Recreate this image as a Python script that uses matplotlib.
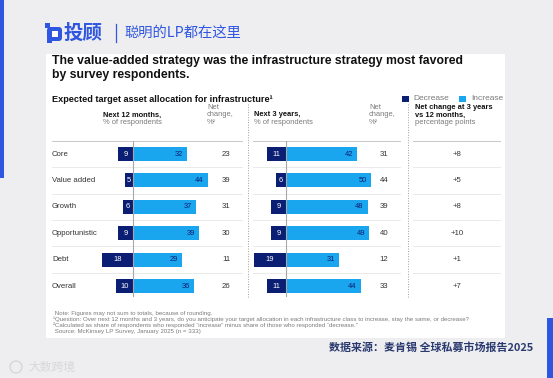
import matplotlib
matplotlib.use("Agg")
import matplotlib.pyplot as plt
from matplotlib.patches import Rectangle, FancyBboxPatch, Circle
import numpy as np

# ---------------- data ----------------
categories = ["Core", "Value added", "Growth", "Opportunistic", "Debt", "Overall"]
dec_12m = [9, 5, 6, 9, 18, 10]
inc_12m = [32, 44, 37, 39, 29, 36]
net_12m = [23, 39, 31, 30, 11, 26]
dec_3y = [11, 6, 9, 9, 19, 11]
inc_3y = [42, 50, 48, 49, 31, 44]
net_3y = [31, 44, 39, 40, 12, 33]
diff_labels = ["+8", "+5", "+8", "+10", "+1", "+7"]

title_lines = ["The value-added strategy was the infrastructure strategy most favored",
               "by survey respondents."]
subtitle = "Expected target asset allocation for infrastructure\u00b9"
footnotes = [
    " Note: Figures may not sum to totals, because of rounding.",
    "\u00b9Question: Over next 12 months and 3 years, do you anticipate your target allocation in each infrastructure class to increase, stay the same, or decrease?",
    "\u00b2Calculated as share of respondents who responded \u201cincrease\u201d minus share of those who responded \u201cdecrease.\u201d",
    " Source: McKinsey LP Survey, January 2025 (n = 333)",
]
source_cn = "数据来源：麦肯锡 全球私募市场报告2025"

# ---------------- style ----------------
W, H = 553, 378
NAVY = "#0a1f73"
LIGHT = "#1aa5ef"
BRAND = "#2f56e0"
TXT = "#333333"
GREY = "#7a7a7a"
LAT = ["Liberation Sans", "DejaVu Sans"]
CJK = ["Noto Sans CJK SC", "DejaVu Sans"]
plt.rcParams["font.family"] = LAT

fig = plt.figure(figsize=(W / 100, H / 100), dpi=100)
fig.patch.set_facecolor("#eeeef0")
bg = fig.add_axes([0, 0, 1, 1])
bg.set_xlim(0, W)
bg.set_ylim(H, 0)
bg.axis("off")


def box(x0, y0, x1, y1):
    return [x0 / W, 1 - y1 / H, (x1 - x0) / W, (y1 - y0) / H]


# side accents
bg.add_patch(Rectangle((0, 0), 4, 178, color=BRAND, lw=0))
bg.add_patch(Rectangle((547, 318), 6, 60, color=BRAND, lw=0))

# logo
bg.add_patch(FancyBboxPatch((47, 27), 15, 14, boxstyle="round,pad=0,rounding_size=3.5",
                            fc=BRAND, ec="none"))
bg.add_patch(Rectangle((51.5, 30.5), 6, 6, color="white", lw=0))
bg.add_patch(Rectangle((45, 23), 4.5, 4.5, color=BRAND, lw=0))
bg.add_patch(Rectangle((47, 39), 4.5, 4, color=BRAND, lw=0))
bg.text(64, 33, "投顾", family=CJK, fontsize=14, fontweight="bold", color=BRAND,
        va="center", ha="left")
bg.plot([116, 116], [24, 42], color=BRAND, lw=0.9)
bg.text(124, 33, "聪明的LP都在这里", family=CJK, fontsize=10.3, color=BRAND,
        va="center", ha="left", style="italic")

# white card
bg.add_patch(Rectangle((46, 54), 459, 284, color="white", lw=0))

# title / subtitle
for k, line in enumerate(title_lines):
    bg.text(52, 61 + k * 14, line, fontsize=8.8, fontweight="bold", color="#111111",
            va="center", ha="left")
bg.text(52, 99, subtitle, fontsize=6.6, fontweight="bold", color="#111111",
        va="center", ha="left")

# legend
bg.add_patch(Rectangle((402, 95.5), 6.5, 6.5, color=NAVY, lw=0))
bg.text(413, 99, "Decrease", fontsize=6.0, color=GREY, va="center", ha="left")
bg.add_patch(Rectangle((459, 95.5), 6.5, 6.5, color=LIGHT, lw=0))
bg.text(471, 99, "Increase", fontsize=6.0, color=GREY, va="center", ha="left")

# column headers
hs = 5.4
bg.text(103, 115, "Next 12 months,", fontsize=hs, fontweight="bold", color="#111", va="center")
bg.text(103, 122, "% of respondents", fontsize=hs, color=GREY, va="center")
bg.text(254, 115, "Next 3 years,", fontsize=hs, fontweight="bold", color="#111", va="center")
bg.text(254, 122, "% of respondents", fontsize=hs, color=GREY, va="center")
for xx in (207, 369):
    bg.text(xx, 107.5, "Net", fontsize=hs, color=GREY, va="center")
    bg.text(xx, 115, "change,", fontsize=hs, color=GREY, va="center")
    bg.text(xx, 122, "%\u00b2", fontsize=hs, color=GREY, va="center")
bg.text(415, 107.5, "Net change at 3 years", fontsize=hs, fontweight="bold", color="#111", va="center")
bg.text(415, 115, "vs 12 months,", fontsize=hs, fontweight="bold", color="#111", va="center")
bg.text(415, 122, "percentage points", fontsize=hs, color=GREY, va="center")

# table geometry
top, bot = 140.8, 299.2
n = len(categories)
rh = (bot - top) / n
rows_y = top + rh * (np.arange(n) + 0.5)

# highlight for value added row
bg.add_patch(Rectangle((50, top + rh), 450, rh, color="#f0f0f0", lw=0, zorder=0))

segments = [(52, 242), (253, 400), (413, 500)]
for (a, b) in segments:
    bg.plot([a, b], [top, top], color="#c8c8c8", lw=0.7)
    for k in range(1, n):
        bg.plot([a, b], [top + k * rh] * 2, color="#e6e6e6", lw=0.6)

for xx in (248, 408):
    bg.plot([xx, xx], [104, 298], color="#a0a0a0", lw=0.7, ls=(0, (1, 1.6)))

cs = 5.6
for i, c in enumerate(categories):
    y = rows_y[i]
    bg.text(52, y, c, fontsize=cs, color=TXT, va="center", ha="left")
    bg.text(226, y, str(net_12m[i]), fontsize=cs, color=TXT, va="center", ha="center")
    bg.text(384, y, str(net_3y[i]), fontsize=cs, color=TXT, va="center", ha="center")
    bg.text(457, y, diff_labels[i], fontsize=cs, color=TXT, va="center", ha="center")

# bar panels
scale = 1.7  # px per percentage point
xmin, xmax = -25, 65
for zero_x, dec, inc in ((133, dec_12m, inc_12m), (286, dec_3y, inc_3y)):
    ax = fig.add_axes(box(zero_x + xmin * scale, top, zero_x + xmax * scale, bot))
    ax.set_xlim(xmin, xmax)
    ax.set_ylim(n - 0.5, -0.5)
    ax.axis("off")
    ax.patch.set_alpha(0)
    ypos = np.arange(n)
    ax.barh(ypos, [-d for d in dec], height=0.53, color=NAVY, lw=0, zorder=2)
    ax.barh(ypos, inc, height=0.53, color=LIGHT, lw=0, zorder=2)
    ax.axvline(0, color="#a8a8a8", lw=0.8, zorder=3, ymin=0.02, ymax=1)
    for i in range(n):
        ax.text(-dec[i] / 2, i, str(dec[i]), fontsize=5.4, color="white",
                ha="center", va="center", zorder=4)
        ax.text(inc[i] - 2.4, i, str(inc[i]), fontsize=5.4, color=NAVY,
                ha="right", va="center", zorder=4)

# footnotes
for k, line in enumerate(footnotes):
    bg.text(53, 313.5 + k * 6, line, fontsize=4.4, color=GREY, va="center", ha="left")

# chinese source
bg.text(533, 348, source_cn, family=CJK, fontsize=7.9, fontweight="bold",
        color="#2a3a70", va="center", ha="right")

# watermark
bg.add_patch(Circle((16, 367), 6, fill=False, ec="#d6d6d6", lw=1.0))
bg.text(28, 367, "大数跨境", family=CJK, fontsize=8.5, color="#d8d8d8", va="center", ha="left")

fig.savefig("out.png", dpi=100, facecolor=fig.get_facecolor())
